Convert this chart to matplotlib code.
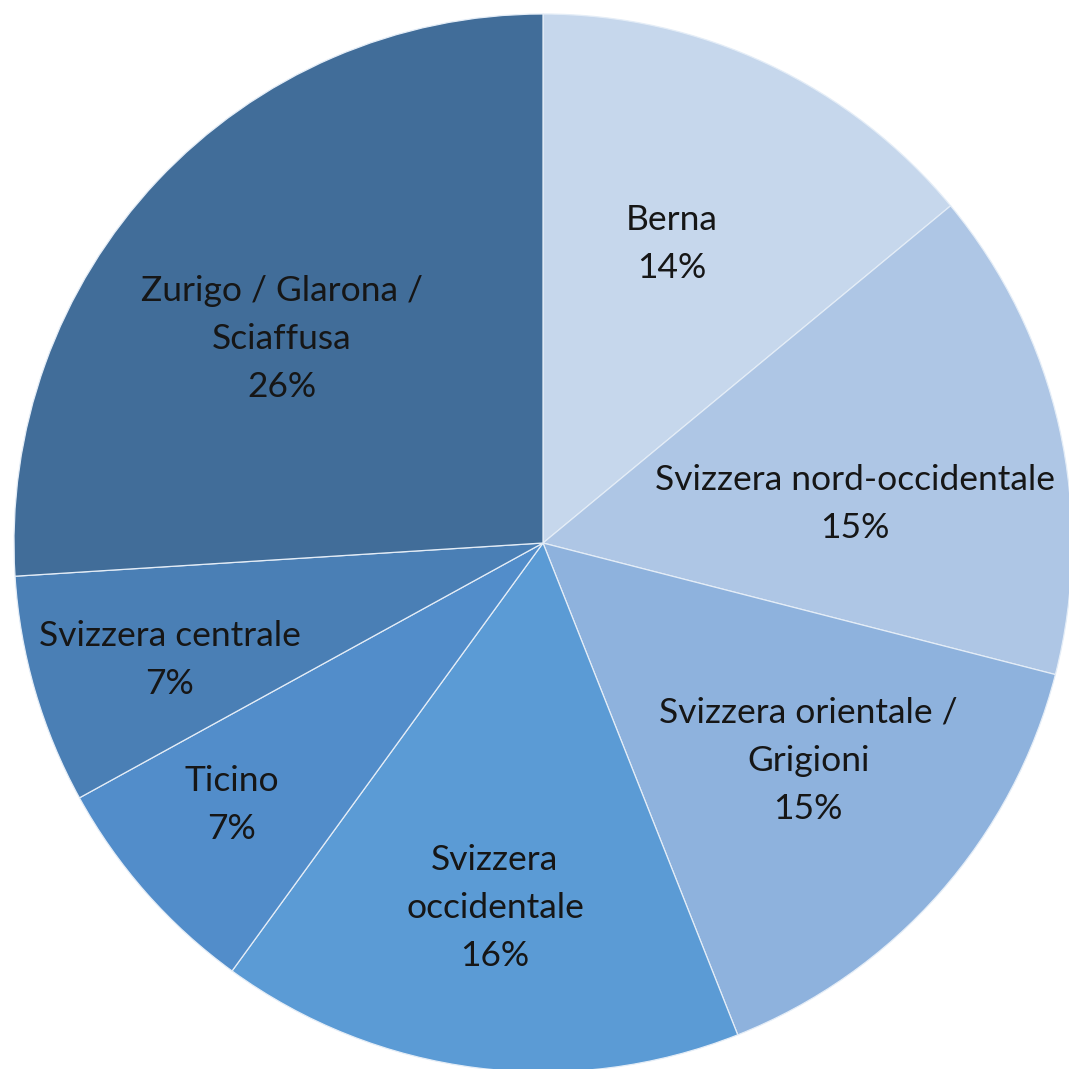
import numpy as np
import matplotlib
matplotlib.use('Agg')
import matplotlib.pyplot as plt

# Data
regions = ['Berna', 'Svizzera nord-occidentale', 'Svizzera orientale /\nGrigioni',
           'Svizzera\noccidentale', 'Ticino', 'Svizzera centrale',
           'Zurigo / Glarona /\nSciaffusa']
shares = [14, 15, 15, 16, 7, 7, 26]
colors = ['#C6D7EC', '#AEC6E5', '#8EB2DD', '#5B9BD5', '#528DCA', '#4A7FB5', '#416D99']

# label placement (fraction of radius, angle nudge in degrees)
label_r = [0.616, 0.594, 0.649, 0.696, 0.769, 0.739, 0.626]
label_da = [1.9, -5.5, 2.0, -0.3, -1.3, 1.2, 5.2]

plt.rcParams['font.family'] = ['Lato', 'DejaVu Sans']

fig = plt.figure(figsize=(10.69, 10.69), dpi=100)
ax = fig.add_axes([0, 0, 1, 1])

wedges, _ = ax.pie(shares, colors=colors, startangle=90, counterclock=False,
                   radius=1.0, wedgeprops=dict(edgecolor='#E4EDF7', linewidth=0.9))

# labels inside each slice
total = sum(shares)
start = 90.0
for name, val, r, da in zip(regions, shares, label_r, label_da):
    span = 360.0 * val / total
    mid = np.deg2rad(start - span / 2 + da)
    start -= span
    ax.text(r * np.cos(mid), r * np.sin(mid), f'{name}\n{val}%',
            ha='center', va='center', fontsize=25.5, color='#161616',
            linespacing=1.62)

# pie is slightly cropped on the right and bottom as in the original
R = 529.0
ax.set_xlim(-543 / R, (1069 - 543) / R)
ax.set_ylim(-(1069 - 543) / R, 543 / R)
ax.set_aspect('equal')
ax.axis('off')

fig.savefig('out.png', dpi=100, facecolor='white')
